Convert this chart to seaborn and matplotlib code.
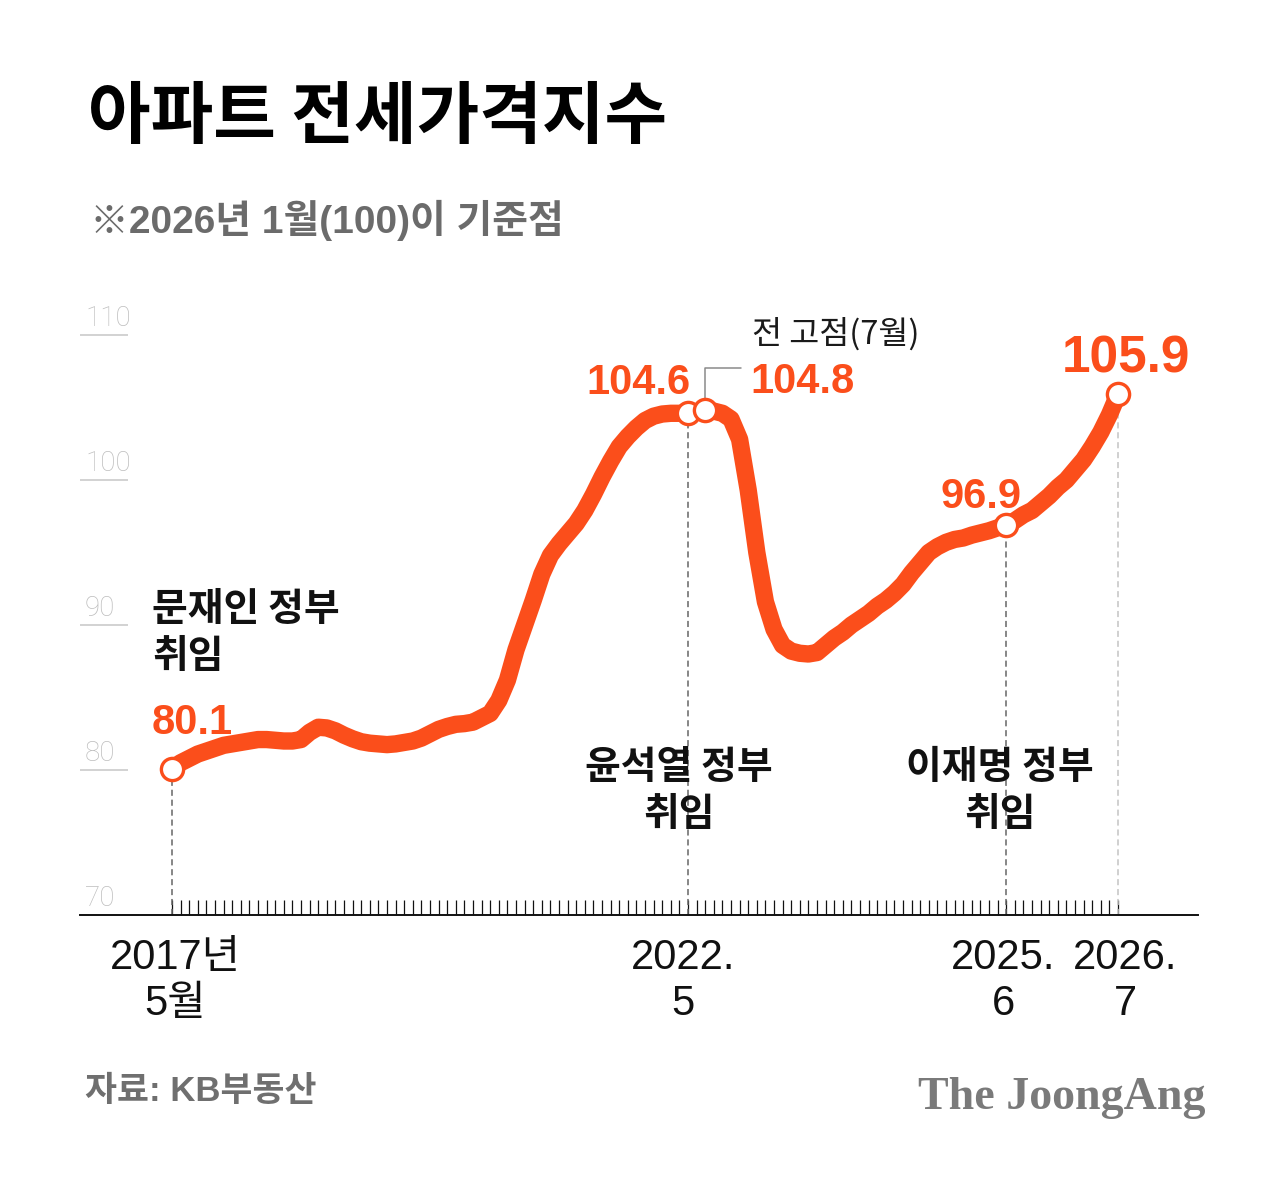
import matplotlib
matplotlib.use("Agg")
import matplotlib.pyplot as plt
import seaborn as sns
import pandas as pd

# ---------------- data ----------------
# month index 0 = 2017-05 ... 110 = 2026-07
months = list(range(111))
values = [
    80.1, 80.5, 80.8, 81.1, 81.3, 81.5, 81.7, 81.8, 81.9, 82.0,
    82.1, 82.1, 82.05, 82.0, 82.0, 82.1, 82.6, 82.95, 82.9, 82.7,
    82.4, 82.15, 81.95, 81.85, 81.8, 81.75, 81.8, 81.9, 82.0, 82.2,
    82.5, 82.8, 83.0, 83.15, 83.2, 83.3, 83.6, 83.9, 84.8, 86.2,
    88.3, 90.0, 91.7, 93.5, 94.8, 95.6, 96.3, 97.0, 97.9, 99.0,
    100.2, 101.3, 102.3, 103.0, 103.6, 104.1, 104.4, 104.55, 104.6, 104.6,
    104.6, 104.7, 104.8, 104.75, 104.6, 104.2, 102.8, 99.3, 95.0, 91.6,
    89.7, 88.6, 88.2, 88.05, 88.0, 88.1, 88.6, 89.1, 89.5, 90.0,
    90.4, 90.8, 91.3, 91.7, 92.2, 92.8, 93.6, 94.3, 95.0, 95.4,
    95.7, 95.9, 96.0, 96.2, 96.35, 96.5, 96.7, 96.9, 97.2, 97.6,
    97.9, 98.4, 98.9, 99.5, 100.0, 100.7, 101.4, 102.3, 103.3, 104.5,
    105.9,
]
ytick_values = [70, 80, 90, 100, 110]
ytick_labels = ["70", "80", "90", "100", "110"]
xlabel_months = [0, 60, 97, 110]
xlabel_texts = ["2017년\n5월", "2022.\n5", "2025.\n6", "2026.\n7"]
highlight_months = [0, 60, 62, 97, 110]
highlight_texts = ["80.1", "104.6", "104.8", "96.9", "105.9"]
gov_months = [0, 60, 97]
gov_texts = ["문재인 정부\n취임", "윤석열 정부\n취임", "이재명 정부\n취임"]

title = "아파트 전세가격지수"
subtitle = "※2026년 1월(100)이 기준점"
peak_note = "전 고점(7월)"
source = "자료: KB부동산"
brand = "The JoongAng"

ORANGE = "#FB4E1B"
df = pd.DataFrame({"month": months, "index": values})
val = dict(zip(months, values))

# ---------------- style ----------------
sns.set_theme(style="white")
FAM = ["Liberation Sans", "Noto Sans CJK KR", "DejaVu Sans"]
NARROW = ["Liberation Sans Narrow", "Liberation Sans", "Noto Sans CJK KR", "DejaVu Sans"]
CJK = ["Noto Sans CJK KR", "Liberation Sans", "DejaVu Sans"]
plt.rcParams["font.family"] = FAM

W, H = 1287, 1178
fig = plt.figure(figsize=(W / 100, H / 100), dpi=100)
fig.patch.set_facecolor("white")


def fx(px):
    return px / W


def fy(py):
    return 1 - py / H


ax = fig.add_axes([fx(80), fy(915), fx(1198) - fx(80), fy(335) - fy(915)])
ax.set_facecolor("white")
ax.set_xlim(-10.7, 119.3)
ax.set_ylim(70, 110)

# main line
sns.lineplot(data=df, x="month", y="index", ax=ax, color=ORANGE, linewidth=12.5,
             solid_capstyle="round", solid_joinstyle="round", zorder=3)

# dashed guide lines
for m in highlight_months:
    if m == 62:
        continue
    col = "#c4c4c4" if m == 110 else "#666666"
    ax.vlines(m, 70, val[m], colors=col, linestyles=(0, (4, 2.5)), linewidth=1.1, zorder=1)

# connector for the previous peak
pk = 62
ax.plot([pk, pk, pk + 4.2], [val[pk] + 0.7, val[pk] + 2.9, val[pk] + 2.9],
        color="#8a8a8a", linewidth=1.1, zorder=2)

# markers
ax.plot([m for m in highlight_months], [val[m] for m in highlight_months], linestyle="none",
        marker="o", markersize=16, markerfacecolor="white", markeredgecolor=ORANGE,
        markeredgewidth=2.4, zorder=5)

# value labels
label_offsets = {0: (-20, 35, "left"), 60: (2, 19, "right"), 62: (45, 17, "left"),
                 97: (-66, 17, "left"), 110: (-56, 22, "left")}
for m, t in zip(highlight_months, highlight_texts):
    dx, dy, ha = label_offsets[m]
    size = 37 if m == 110 else 30
    ax.annotate(t, xy=(m, val[m]), xytext=(dx, dy), textcoords="offset pixels",
                ha=ha, va="baseline", fontsize=size, fontweight="bold", color=ORANGE,
                family=FAM, zorder=6)

ax.annotate(peak_note, xy=(pk, val[pk]), xytext=(47, 67), textcoords="offset pixels",
            ha="left", va="baseline", fontsize=23.5, color="#1a1a1a", family=CJK)

# government labels
gov_offsets = {0: (-20, 282, "left"), 60: (-9, 124, "center"), 97: (-6, 124, "center")}
for m, t in zip(gov_months, gov_texts):
    dx, dy, ha = gov_offsets[m]
    ax.annotate(t, xy=(m, 70), xytext=(dx, dy), textcoords="offset pixels",
                ha=ha, va="center", multialignment="center" if ha == "center" else "left",
                fontsize=28, fontweight="bold", color="#111111", family=CJK,
                linespacing=1.25)

# x labels
x_offsets = {0: 3, 60: -5, 97: -3, 110: 7}
for m, t in zip(xlabel_months, xlabel_texts):
    ax.annotate(t, xy=(m, 70), xytext=(x_offsets[m], -66), textcoords="offset pixels",
                ha="center", va="center", multialignment="center", fontsize=30,
                color="#111111", family=NARROW, linespacing=1.2, annotation_clip=False)

# y labels and short grid lines
for v, t in zip(ytick_values, ytick_labels):
    ax.annotate(t, xy=(-10.7, v), xytext=(5, 9), textcoords="offset pixels",
                ha="left", va="baseline", fontsize=20, color="#bdbdbd",
                family=["Roboto", "Liberation Sans"], fontweight="light", annotation_clip=False)
    if v > 70:
        ax.hlines(v, -10.7, -5.1, colors="#d2d2d2", linewidth=1.4, clip_on=False)

# axes cosmetics
for s in ["top", "right", "left"]:
    ax.spines[s].set_visible(False)
ax.spines["bottom"].set_color("#111111")
ax.spines["bottom"].set_linewidth(1.4)
ax.set_xticks(months)
ax.set_yticks([])
ax.tick_params(axis="x", direction="in", length=11, width=0.9, color="#111111",
               bottom=True, labelbottom=False)
ax.set_xlabel("")
ax.set_ylabel("")
ax.grid(False)

# titles
fig.text(fx(88), fy(118), title, ha="left", va="center", fontsize=49,
         fontweight="heavy", color="#000000", family=CJK)
fig.text(fx(90), fy(220), subtitle, ha="left", va="center", fontsize=28,
         fontweight="bold", color="#6b6b6b", family=FAM)
fig.text(fx(85), fy(1092), source, ha="left", va="center", fontsize=25,
         fontweight="bold", color="#6f6f6f", family=FAM)
fig.text(fx(1205), fy(1098), brand, ha="right", va="center", fontsize=33,
         fontweight="bold", color="#7a7a7a", family=["Liberation Serif", "DejaVu Serif"])

fig.savefig("out.png", dpi=100, facecolor="white")
